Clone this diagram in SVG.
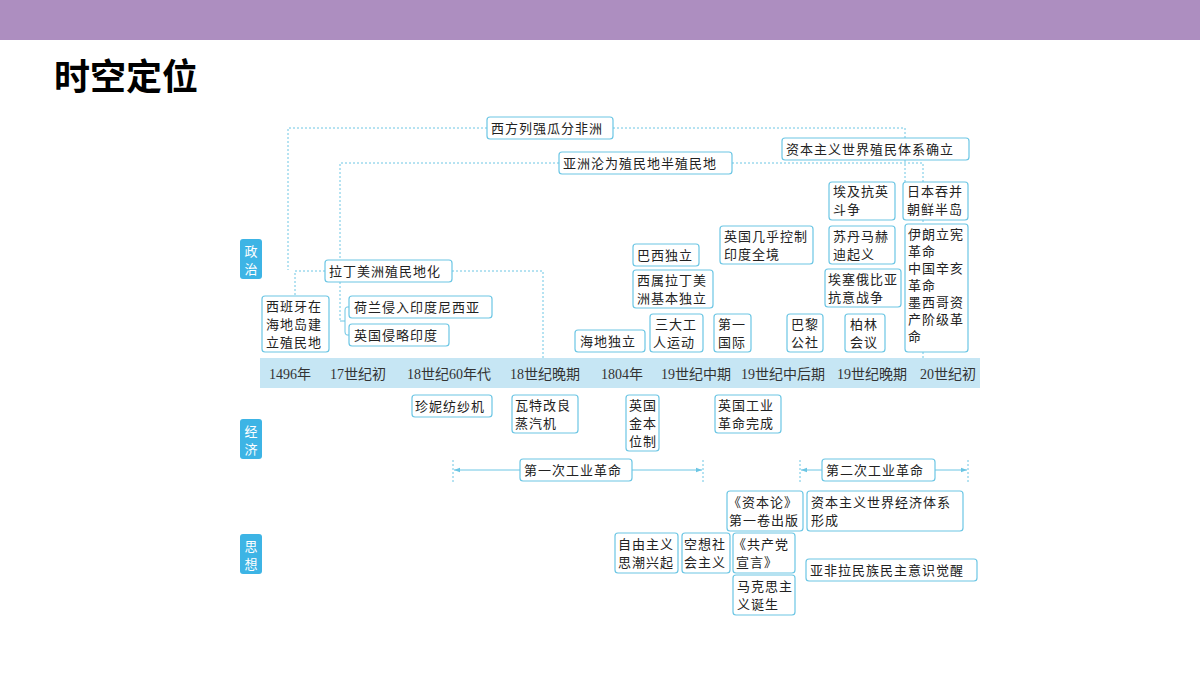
<svg xmlns="http://www.w3.org/2000/svg" width="1200" height="675" viewBox="0 0 1200 675">
<defs>
<style>
.b{fill:#fff;stroke:#6cc6e4;stroke-width:1.2}
.t{font-family:"Noto Sans CJK SC",sans-serif;font-size:13px;fill:#222;letter-spacing:1px}
.tl{font-family:"Liberation Serif","Noto Sans CJK SC",serif;font-size:14px;fill:#333;text-anchor:middle}
.d{fill:none;stroke:#6cc6e4;stroke-width:1;stroke-dasharray:2,2}
.s{fill:none;stroke:#6cc6e4;stroke-width:1}
.side{fill:#3db4e5}
.st{font-family:"Noto Sans CJK SC",sans-serif;font-size:13px;fill:#fff;text-anchor:middle}
</style>
<marker id="a" viewBox="0 0 8 8" refX="8" refY="4" markerWidth="6" markerHeight="6" orient="auto-start-reverse"><path d="M0,1 L8,4 L0,7 z" fill="#6cc6e4"/></marker>
</defs>
<rect x="0" y="0" width="1200" height="40" fill="#ad8ec0"/>
<text x="54" y="90" font-family="Noto Sans CJK SC,sans-serif" font-size="36" font-weight="bold" fill="#000">时空定位</text>
<rect x="260" y="358" width="720" height="30" fill="#c6e6f4"/>
<g class="tl">
<text x="290" y="379">1496年</text><text x="358" y="379">17世纪初</text><text x="449" y="379">18世纪60年代</text><text x="545" y="379">18世纪晚期</text><text x="622" y="379">1804年</text><text x="696" y="379">19世纪中期</text><text x="783" y="379">19世纪中后期</text><text x="872" y="379">19世纪晚期</text><text x="948" y="379">20世纪初</text>
</g>
<g id="sides">
<rect class="side" x="240" y="239" width="22" height="40" rx="3"/><text class="st" x="251" y="256">政</text><text class="st" x="251" y="274">治</text>
<rect class="side" x="240" y="419" width="22" height="40" rx="3"/><text class="st" x="251" y="436">经</text><text class="st" x="251" y="454">济</text>
<rect class="side" x="240" y="534" width="22" height="40" rx="3"/><text class="st" x="251" y="551">思</text><text class="st" x="251" y="569">想</text>
</g>
<g id="connectors">
<path class="d" d="M487,128 H288 V270"/>
<path class="d" d="M613,128 H905 V182"/>
<path class="d" d="M559,163 H340 V260 M340,282 V322"/>
<path class="d" d="M732,163 H923 V182 M923,220 V224 M923,352 V358"/>
<path class="d" d="M325,271 H295 V296"/>
<path class="d" d="M452,271 H543 V358"/>
<path class="s" d="M349,307 H347 Q345,307 345,310 V332 Q345,335 347,335 H349 M340,321 H345"/>
<path class="d" d="M453,460 V484 M703,460 V484 M800,460 V484 M968,460 V484"/>
<path class="s" d="M520,470 H454" marker-end="url(#a)"/>
<path class="s" d="M632,470 H702" marker-end="url(#a)"/>
<path class="s" d="M822,470 H801" marker-end="url(#a)"/>
<path class="s" d="M935,470 H967" marker-end="url(#a)"/>
</g>
<g id="n1"><rect class="b" x="487" y="117" width="126" height="22" rx="3"/><text class="t" x="491" y="133">西方列强瓜分非洲</text></g>
<g id="n2"><rect class="b" x="782" y="138" width="187" height="22" rx="3"/><text class="t" x="786" y="154">资本主义世界殖民体系确立</text></g>
<g id="n3"><rect class="b" x="559" y="152" width="173" height="22" rx="3"/><text class="t" x="563" y="168">亚洲沦为殖民地半殖民地</text></g>
<g id="n4"><rect class="b" x="829" y="182" width="66" height="38" rx="3"/><text class="t" x="833" y="196">埃及抗英</text><text class="t" x="833" y="214">斗争</text></g>
<g id="n5"><rect class="b" x="903" y="182" width="65" height="38" rx="3"/><text class="t" x="907" y="196">日本吞并</text><text class="t" x="907" y="214">朝鲜半岛</text></g>
<g id="n6"><rect class="b" x="720" y="226" width="93" height="38" rx="3"/><text class="t" x="724" y="241">英国几乎控制</text><text class="t" x="724" y="259">印度全境</text></g>
<g id="n7"><rect class="b" x="829" y="226" width="66" height="38" rx="3"/><text class="t" x="833" y="241">苏丹马赫</text><text class="t" x="833" y="259">迪起义</text></g>
<g id="n8"><rect class="b" x="905" y="224" width="63" height="128" rx="3"/>
<text class="t" x="908" y="239">伊朗立宪</text><text class="t" x="908" y="256">革命</text><text class="t" x="908" y="273">中国辛亥</text><text class="t" x="908" y="290">革命</text><text class="t" x="908" y="307">墨西哥资</text><text class="t" x="908" y="324">产阶级革</text><text class="t" x="908" y="341">命</text></g>
<g id="n9"><rect class="b" x="633" y="244" width="66" height="22" rx="3"/><text class="t" x="637" y="260">巴西独立</text></g>
<g id="n10"><rect class="b" x="633" y="270" width="80" height="38" rx="3"/><text class="t" x="637" y="285">西属拉丁美</text><text class="t" x="637" y="303">洲基本独立</text></g>
<g id="n11"><rect class="b" x="825" y="269" width="76" height="38" rx="3"/><text class="t" x="828" y="284">埃塞俄比亚</text><text class="t" x="828" y="302">抗意战争</text></g>
<g id="n12"><rect class="b" x="325" y="260" width="127" height="22" rx="3"/><text class="t" x="329" y="276">拉丁美洲殖民地化</text></g>
<g id="n13"><rect class="b" x="262" y="296" width="67" height="56" rx="3"/><text class="t" x="266" y="311">西班牙在</text><text class="t" x="266" y="329">海地岛建</text><text class="t" x="266" y="347">立殖民地</text></g>
<g id="n14"><rect class="b" x="349" y="296" width="143" height="22" rx="3"/><text class="t" x="354" y="312">荷兰侵入印度尼西亚</text></g>
<g id="n15"><rect class="b" x="349" y="324" width="100" height="22" rx="3"/><text class="t" x="354" y="340">英国侵略印度</text></g>
<g id="n16"><rect class="b" x="575" y="330" width="70" height="22" rx="3"/><text class="t" x="580" y="346">海地独立</text></g>
<g id="n17"><rect class="b" x="650" y="314" width="53" height="38" rx="3"/><text class="t" x="655" y="329">三大工</text><text class="t" x="653" y="347">人运动</text></g>
<g id="n18"><rect class="b" x="714" y="314" width="37" height="38" rx="3"/><text class="t" x="718" y="329">第一</text><text class="t" x="718" y="347">国际</text></g>
<g id="n19"><rect class="b" x="787" y="314" width="36" height="38" rx="3"/><text class="t" x="791" y="329">巴黎</text><text class="t" x="791" y="347">公社</text></g>
<g id="n20"><rect class="b" x="845" y="314" width="40" height="38" rx="3"/><text class="t" x="850" y="329">柏林</text><text class="t" x="850" y="347">会议</text></g>
<g id="n21"><rect class="b" x="412" y="395" width="80" height="22" rx="3"/><text class="t" x="415" y="411">珍妮纺纱机</text></g>
<g id="n22"><rect class="b" x="512" y="395" width="66" height="38" rx="3"/><text class="t" x="515" y="410">瓦特改良</text><text class="t" x="515" y="428">蒸汽机</text></g>
<g id="n23"><rect class="b" x="626" y="395" width="33" height="56" rx="3"/><text class="t" x="629" y="410">英国</text><text class="t" x="629" y="428">金本</text><text class="t" x="629" y="446">位制</text></g>
<g id="n24"><rect class="b" x="715" y="395" width="66" height="38" rx="3"/><text class="t" x="718" y="410">英国工业</text><text class="t" x="718" y="428">革命完成</text></g>
<g id="n25"><rect class="b" x="520" y="459" width="112" height="22" rx="3"/><text class="t" x="524" y="475">第一次工业革命</text></g>
<g id="n26"><rect class="b" x="822" y="459" width="113" height="22" rx="3"/><text class="t" x="826" y="475">第二次工业革命</text></g>
<g id="n27"><rect class="b" x="727" y="491" width="76" height="40" rx="3"/><text class="t" x="728" y="507">《资本论》</text><text class="t" x="729" y="525">第一卷出版</text></g>
<g id="n28"><rect class="b" x="807" y="491" width="156" height="40" rx="3"/><text class="t" x="811" y="507">资本主义世界经济体系</text><text class="t" x="811" y="525">形成</text></g>
<g id="n29"><rect class="b" x="615" y="533" width="63" height="40" rx="3"/><text class="t" x="618" y="549">自由主义</text><text class="t" x="618" y="567">思潮兴起</text></g>
<g id="n30"><rect class="b" x="682" y="533" width="48" height="40" rx="3"/><text class="t" x="684" y="549">空想社</text><text class="t" x="684" y="567">会主义</text></g>
<g id="n31"><rect class="b" x="733" y="533" width="62" height="40" rx="3"/><text class="t" x="733" y="549">《共产党</text><text class="t" x="736" y="567">宣言》</text></g>
<g id="n32"><rect class="b" x="733" y="575" width="62" height="40" rx="3"/><text class="t" x="737" y="591">马克思主</text><text class="t" x="737" y="609">义诞生</text></g>
<g id="n33"><rect class="b" x="806" y="559" width="171" height="22" rx="3"/><text class="t" x="810" y="575">亚非拉民族民主意识觉醒</text></g>
</svg>
